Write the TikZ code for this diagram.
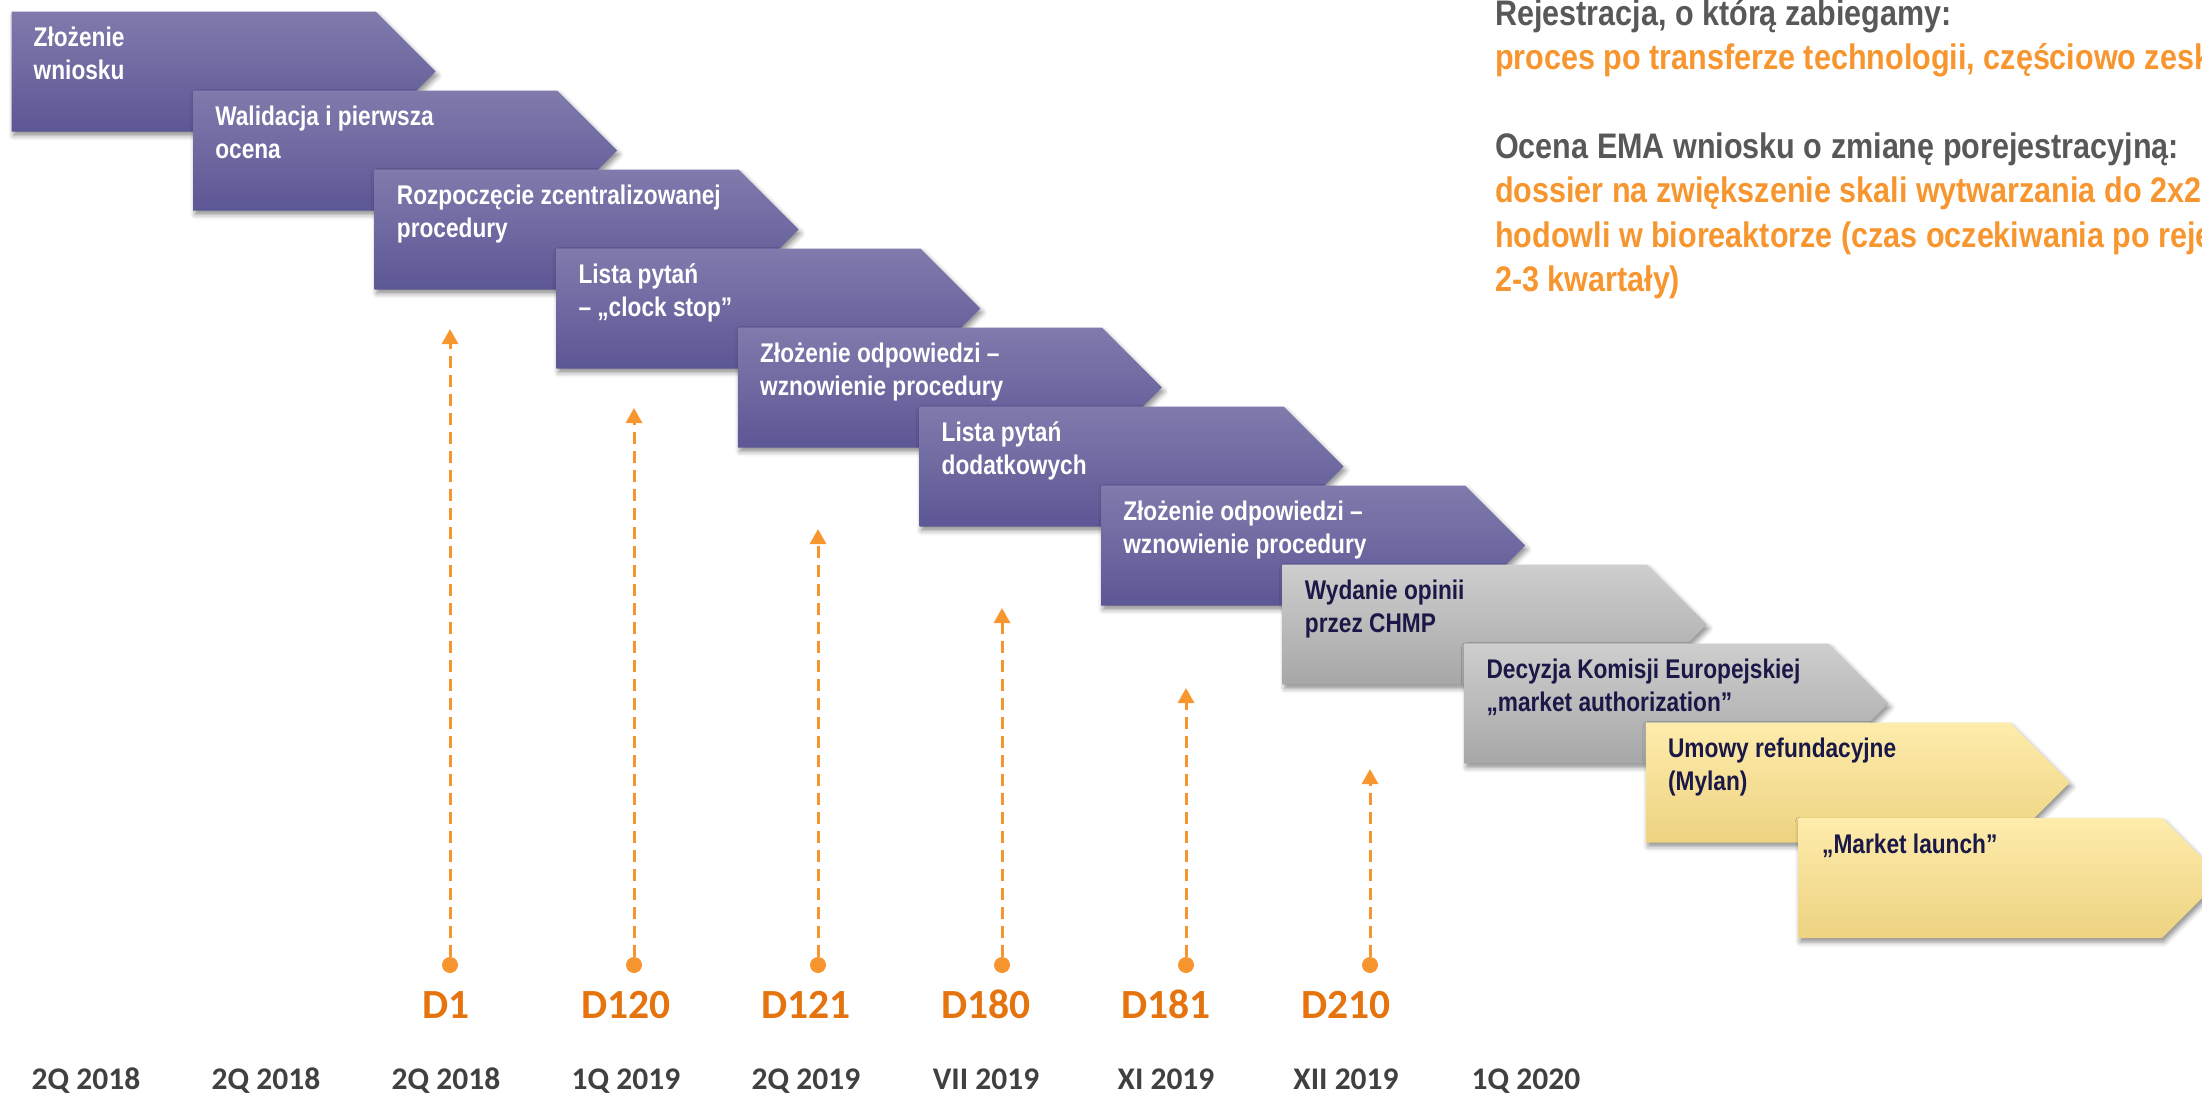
\documentclass[tikz,border=0pt]{standalone}
\usepackage{fontspec}
\setmainfont{Liberation Sans}[FakeStretch=0.86]
\newfontfamily\boxfont{Liberation Sans}[FakeStretch=0.84]
\newfontfamily\carlito{Carlito}
\usetikzlibrary{arrows.meta,shadows.blur}
\definecolor{purT}{HTML}{807BAC}
\definecolor{purB}{HTML}{5C5795}
\definecolor{gryT}{HTML}{CECECE}
\definecolor{gryB}{HTML}{A7A7A7}
\definecolor{yelT}{HTML}{FEECAC}
\definecolor{yelB}{HTML}{EDD381}
\definecolor{navy}{HTML}{1A1846}
\definecolor{orL}{HTML}{F7962F}
\definecolor{orD}{HTML}{E5740F}
\definecolor{txtG}{HTML}{585858}
\definecolor{dateG}{HTML}{404040}
\tikzset{
  shd/.style={blur shadow={shadow xshift=2pt,shadow yshift=-4pt,shadow blur radius=5pt,shadow opacity=45}},
  chevpur/.style={shd,top color=purT,bottom color=purB},
  chevgry/.style={shd,top color=gryT,bottom color=gryB},
  chevyel/.style={shd,top color=yelT,bottom color=yelB},
  btxt/.style={anchor=base west,inner sep=0pt,font=\boxfont\fontsize{27}{33}\selectfont\bfseries},
  wtxt/.style={btxt,text=white},
  ntxt/.style={btxt,text=navy},
  rtxt/.style={anchor=base west,inner sep=0pt,font=\fontsize{35.5}{43.5}\selectfont\bfseries},
  gtxt/.style={rtxt,text=txtG},
  otxt/.style={rtxt,text=orL},
  dlab/.style={anchor=base,inner sep=0pt,text=orD,font=\carlito\fontsize{41.5}{45}\selectfont\bfseries},
  datelab/.style={anchor=base,inner sep=0pt,text=dateG,font=\carlito\fontsize{31.5}{35}\selectfont\bfseries},
  dotmark/.style={circle,fill=orL,inner sep=0pt,minimum size=16pt},
  conn/.style={draw=orL,line width=3pt,dash pattern=on 12pt off 7pt,-{Triangle[width=16pt,length=15pt]}}
}
\newcommand\chev[3]{\path[#1] (#2,#3) -- ++(364,0) -- ++(60,60) -- ++(-60,60) -- ++(-364,0) -- cycle;}
\begin{document}
\begin{tikzpicture}[x=1pt,y=-1pt]
\useasboundingbox (0,0) rectangle (2202,1093);
\clip (0,0) rectangle (2202,1093);
% chevrons
\chev{chevpur}{11.5}{11.5}
\node[wtxt] (s1a) at (33.5,46.5) {Złożenie};
\node[wtxt] (s1b) at (33.5,79.5) {wniosku};
\chev{chevpur}{193.1}{90.5}
\node[wtxt] (s2a) at (215.1,125.5) {Walidacja i pierwsza};
\node[wtxt] (s2b) at (215.1,158.5) {ocena};
\chev{chevpur}{374.7}{169.5}
\node[wtxt] (s3a) at (396.7,204.5) {Rozpoczęcie zcentralizowanej};
\node[wtxt] (s3b) at (396.7,237.5) {procedury};
\chev{chevpur}{556.3}{248.5}
\node[wtxt] (s4a) at (578.3,283.5) {Lista pytań};
\node[wtxt] (s4b) at (578.3,316.5) {– „clock stop”};
\chev{chevpur}{737.9}{327.5}
\node[wtxt] (s5a) at (759.9,362.5) {Złożenie odpowiedzi –};
\node[wtxt] (s5b) at (759.9,395.5) {wznowienie procedury};
\chev{chevpur}{919.5}{406.5}
\node[wtxt] (s6a) at (941.5,441.5) {Lista pytań};
\node[wtxt] (s6b) at (941.5,474.5) {dodatkowych};
\chev{chevpur}{1101.1}{485.5}
\node[wtxt] (s7a) at (1123.1,520.5) {Złożenie odpowiedzi –};
\node[wtxt] (s7b) at (1123.1,553.5) {wznowienie procedury};
\chev{chevgry}{1282.7}{564.5}
\node[ntxt] (s8a) at (1304.7,599.5) {Wydanie opinii};
\node[ntxt] (s8b) at (1304.7,632.5) {przez CHMP};
\chev{chevgry}{1464.3}{643.5}
\node[ntxt] (s9a) at (1486.3,678.5) {Decyzja Komisji Europejskiej};
\node[ntxt] (s9b) at (1486.3,711.5) {„market authorization”};
\chev{chevyel}{1645.9}{722.5}
\node[ntxt] (s10a) at (1667.9,757.5) {Umowy refundacyjne};
\node[ntxt] (s10b) at (1667.9,790.5) {(Mylan)};
\chev{chevyel}{1798}{818}
\node[ntxt] (s11a) at (1822,853) {„Market launch”};
% milestone arrows
\foreach \i/\x/\t in {1/450/329,2/634/408,3/818/529,4/1002/608,5/1186/688,6/1370/769}{
  \node[dotmark] (d\i) at (\x,965) {};
  \coordinate (t\i) at (\x,\t);
  \draw[conn] (d\i) -- (t\i);
}
\node[dlab] (l1) at (446,1018) {D1};
\node[dlab] (l2) at (626,1018) {D120};
\node[dlab] (l3) at (806,1018) {D121};
\node[dlab] (l4) at (986,1018) {D180};
\node[dlab] (l5) at (1166,1018) {D181};
\node[dlab] (l6) at (1346,1018) {D210};
% dates
\node[datelab] (q1) at (86,1089) {2Q 2018};
\node[datelab] (q2) at (266,1089) {2Q 2018};
\node[datelab] (q3) at (446,1089) {2Q 2018};
\node[datelab] (q4) at (626,1089) {1Q 2019};
\node[datelab] (q5) at (806,1089) {2Q 2019};
\node[datelab] (q6) at (986,1089) {VII 2019};
\node[datelab] (q7) at (1166,1089) {XI 2019};
\node[datelab] (q8) at (1346,1089) {XII 2019};
\node[datelab] (q9) at (1526,1089) {1Q 2020};
% right text
\node[gtxt] (r1) at (1495,25) {Rejestracja, o którą zabiegamy:};
\node[otxt] (r2) at (1495,69) {proces po transferze technologii, częściowo zeskalowany};
\node[gtxt] (r3) at (1495,158) {Ocena EMA wniosku o zmianę porejestracyjną:};
\node[otxt] (r4) at (1495,202.5) {dossier na zwiększenie skali wytwarzania do 2x2000 L};
\node[otxt] (r5) at (1495,247) {hodowli w bioreaktorze (czas oczekiwania po rejestracji};
\node[otxt] (r6) at (1495,291.5) {2-3 kwartały)};
\end{tikzpicture}
\end{document}
